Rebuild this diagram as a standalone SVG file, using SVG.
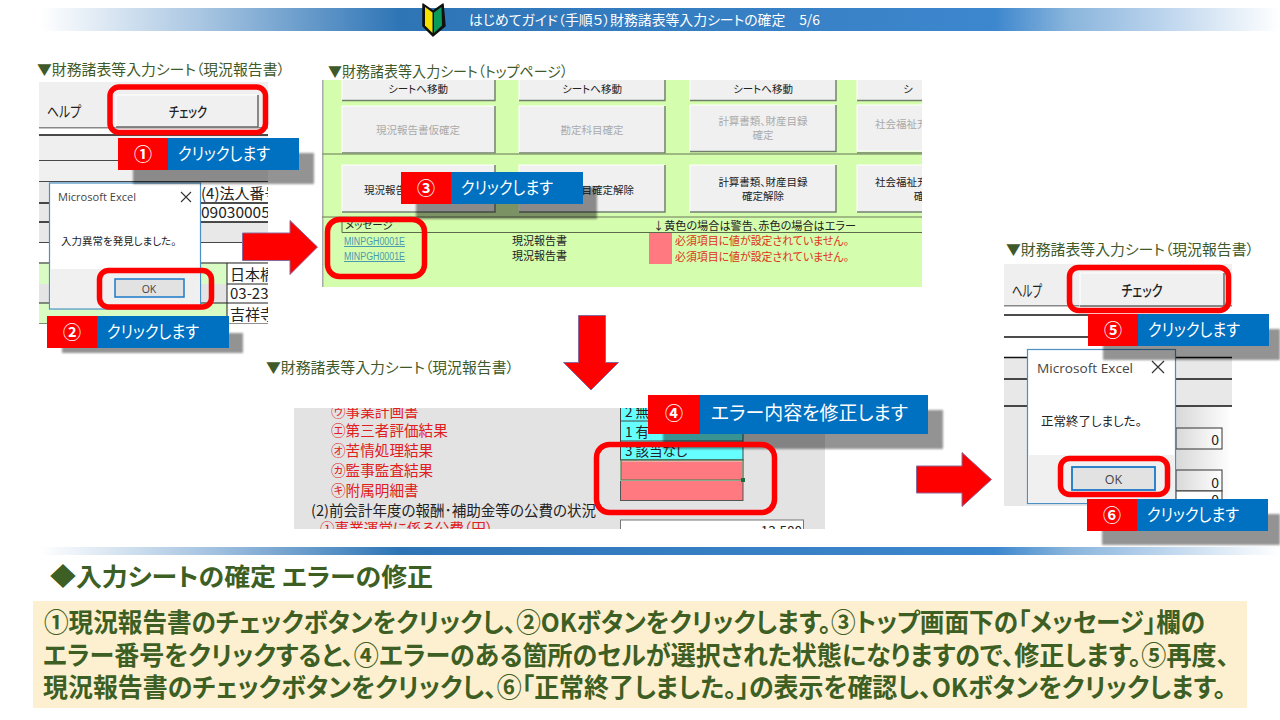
<svg xmlns="http://www.w3.org/2000/svg" width="1280" height="720" viewBox="0 0 1280 720">
<style>
text{font-family:"Noto Sans CJK JP","Noto Sans",sans-serif;fill:#222;font-feature-settings:"palt"}
.cap{font-size:14.5px;fill:#3f5a2a}
.frame{fill:none;stroke:#f00;stroke-width:5.5}
.lb{font-size:17px;fill:#fff}
.num{font-size:18px;font-weight:700;fill:#fff;text-anchor:middle}
.red{fill:#f00}.blue{fill:#0070c0}
.sh{fill:#000;opacity:.42;filter:url(#b)}
.arrow{fill:#f00;stroke:#8a6a9a;stroke-width:1}
.line{stroke:#111;stroke-width:1.5}
.btn{fill:#f0f0f0;stroke:#fff;stroke-width:1}
.btns{fill:none;stroke:#70806a;stroke-width:1.5}
.bt{font-size:10.5px;text-anchor:middle;fill:#222}
.st{text-anchor:start}
.dis{fill:#aaa}
.dlg{fill:#fff;stroke:#4a90c4;stroke-width:1.2}
.ms{font-family:"Open Sans","Noto Sans",sans-serif;font-size:11.5px;fill:#444}
.lnk{font-family:"Liberation Sans",sans-serif;font-size:10px;fill:#4a9ab0;text-decoration:underline}
.err{font-size:11.2px;fill:#e03020}
.form{font-size:14.6px;fill:#e02020}
.big{font-size:26px;font-weight:700;fill:#3d5f24}
</style>
<defs>
<linearGradient id="g1" x1="0" x2="1" y1="0" y2="0"><stop offset="0" stop-color="#fff"/><stop offset=".13" stop-color="#a9c6e2"/><stop offset=".29" stop-color="#2e75b6"/><stop offset=".77" stop-color="#3d87ce"/><stop offset=".83" stop-color="#8ab5dc"/><stop offset=".9" stop-color="#b8d2ec"/><stop offset="1" stop-color="#fff"/></linearGradient>
<linearGradient id="g2" x1="0" x2="1" y1="0" y2="0"><stop offset="0" stop-color="#d8d8d8"/><stop offset="1" stop-color="#fff"/></linearGradient>
<filter id="b" x="-10%" y="-30%" width="120%" height="160%"><feGaussianBlur stdDeviation="1.2"/></filter>
<clipPath id="c1"><rect x="39" y="82" width="229" height="242"/></clipPath>
<clipPath id="c2"><rect x="322" y="80" width="600" height="207"/></clipPath>
<clipPath id="c3"><rect x="294" y="408" width="531" height="121"/></clipPath>
<clipPath id="c4"><rect x="1004" y="264" width="228" height="242"/></clipPath>
</defs>
<rect width="1280" height="720" fill="#fff"/>
<g id="header">
<rect x="40" y="8" width="1240" height="23" fill="url(#g1)"/>
<path d="M423 4 L433 11 L443 4 L445 26 L433 36 L423 26 Z" fill="#111" stroke="#111" stroke-width="1.5" stroke-linejoin="round"/>
<path d="M425 7 L432.500 12.500 V33 L425 25.500 Z" fill="#f6e000"/>
<path d="M441.500 7 L434 12.500 V33 L442 25.500 Z" fill="#0a9a5a"/>
<text x="469" y="25" font-size="13.500" style="fill:#fff" textLength="351" lengthAdjust="spacingAndGlyphs">はじめてガイド（手順５）財務諸表等入力シートの確定　5/6</text>
</g>
<g id="sheet-check-1">
<text class="cap" x="37" y="75" textLength="248" lengthAdjust="spacingAndGlyphs">▼財務諸表等入力シート（現況報告書）</text>
<g clip-path="url(#c1)">
<rect x="39" y="82" width="229" height="242" fill="#efefef"/>
<rect x="39" y="127" width="229" height="8" fill="#fff"/>
<rect x="39" y="127" width="229" height="1.500" fill="#888"/>
<line class="line" x1="39" x2="268" y1="135" y2="135"/>
<line class="line" x1="39" x2="268" y1="161" y2="161"/>
<rect x="39" y="161" width="229" height="21" fill="#f0f0f0"/>
<line class="line" x1="39" x2="268" y1="182" y2="182"/>
<rect x="39" y="182" width="229" height="61" fill="#e8e8e8"/>
<rect x="201" y="183" width="67" height="39" fill="#fff"/>
<line class="line" x1="39" x2="268" y1="203" y2="203" stroke-width="1"/>
<line class="line" x1="39" x2="268" y1="222" y2="222"/>
<line class="line" x1="39" x2="268" y1="243" y2="243"/>
<rect x="39" y="243" width="229" height="19" fill="#fff"/>
<rect x="39" y="263" width="188" height="61" fill="#d8fcc4"/>
<rect x="39" y="284" width="188" height="19" fill="#e4e4e4"/>
<rect x="227" y="263" width="41" height="61" fill="#fff"/>
<path d="M227 263V324M39 263H268M227 284H268M39 303H268M39 324H268" stroke="#222" fill="none"/>
<text x="201" y="199" font-size="15">(4)法人番号</text>
<text x="201" y="218" font-size="15.500">09030005</text>
<text x="230" y="280" font-size="15">日本橋</text>
<text x="230" y="299" font-size="15">03-23</text>
<text x="230" y="320" font-size="15">吉祥寺</text>
<text x="47" y="117" font-size="15" textLength="34" lengthAdjust="spacingAndGlyphs">ヘルプ</text>
<rect x="116" y="95" width="142" height="32" fill="#f0f0f0" stroke="#fff"/>
<path d="M258 95V127H116" stroke="#666" stroke-width="1.500" fill="none"/>
<text x="188" y="117" font-size="14" font-weight="500" text-anchor="middle" textLength="38" lengthAdjust="spacingAndGlyphs">チェック</text>
<rect x="49.500" y="183" width="151" height="126" class="dlg"/>
<rect x="50.500" y="269" width="149" height="39" fill="#f0f0f0"/>
<text class="ms" x="58" y="201" textLength="78" lengthAdjust="spacingAndGlyphs">Microsoft Excel</text>
<path d="M181 192L191 202M191 192L181 202" stroke="#333" stroke-width="1.100"/>
<text x="61" y="245" font-size="10.500">入力異常を発見しました。</text>
<rect x="115" y="279" width="69" height="18" fill="#e2e2e2" stroke="#1a78c8" stroke-width="1.500"/>
<text class="ms" x="149" y="293" text-anchor="middle" style="font-size:10.500px">OK</text>
</g>
</g>
<g id="sheet-top">
<text class="cap" x="328" y="77" textLength="240" lengthAdjust="spacingAndGlyphs">▼財務諸表等入力シート（トップページ）</text>
<g clip-path="url(#c2)">
<rect x="322" y="80" width="600" height="207" fill="#d5fdae"/>
<rect x="322" y="80" width="1.500" height="207" fill="#aaa"/>
<g>
<rect class="btn" x="342" y="75" width="153" height="25.500"/>
<rect class="btn" x="519" y="75" width="146" height="25.500"/>
<rect class="btn" x="690" y="75" width="146" height="25.500"/>
<rect class="btn" x="857" y="75" width="80" height="25.500"/>
<rect class="btn" x="342" y="106" width="153" height="47"/>
<rect class="btn" x="519" y="106" width="146" height="47"/>
<rect class="btn" x="690" y="105" width="146" height="46"/>
<rect class="btn" x="857" y="105" width="80" height="46"/>
<rect class="btn" x="342" y="165" width="153" height="47"/>
<rect class="btn" x="519" y="165" width="146" height="47"/>
<rect class="btn" x="690" y="165" width="146" height="47"/>
<rect class="btn" x="857" y="165" width="80" height="47"/>
</g>
<path class="btns" d="M495 80V100.500H342M665 80V100.500H519M836 80V100.500H690M922 100.500H857M495 106V153H342M665 106V153H519M836 105V151.500H690M922 153H857M495 165V212H342M665 165V212H519M836 165V212H690M922 212H857"/>
<path d="M322 154H922" stroke="#8aa070" stroke-width="1.500"/>
<text class="bt" x="418" y="93">シートへ移動</text>
<text class="bt" x="592" y="93">シートへ移動</text>
<text class="bt" x="763" y="93">シートへ移動</text>
<text class="bt" x="908" y="93">シ</text>
<text class="bt dis" x="418" y="134">現況報告書仮確定</text>
<text class="bt dis" x="592" y="134">勘定科目確定</text>
<text class="bt dis" x="763" y="125">計算書類、財産目録</text>
<text class="bt dis" x="763" y="139">確定</text>
<text class="bt dis st" x="875" y="128">社会福祉充</text>
<text class="bt st" x="364" y="194">現況報告書確定解除</text>
<text class="bt" x="592" y="194">勘定科目確定解除</text>
<text class="bt" x="763" y="186">計算書類、財産目録</text>
<text class="bt" x="763" y="200">確定解除</text>
<text class="bt st" x="875" y="186">社会福祉充実</text>
<text class="bt" x="919" y="200">確</text>
<path d="M322 217H922" stroke="#6a7a5a"/>
<path d="M342 217V232.500H922" stroke="#5a6a4a" fill="none"/>
<text x="345" y="229" font-size="10.500">メッセージ</text>
<text x="653" y="230" font-size="11" textLength="203" lengthAdjust="spacingAndGlyphs">↓黄色の場合は警告、赤色の場合はエラー</text>
<text class="lnk" x="344" y="245" textLength="61" lengthAdjust="spacingAndGlyphs">MINPGH0001E</text>
<text class="lnk" x="344" y="260" textLength="61" lengthAdjust="spacingAndGlyphs">MINPGH0001E</text>
<text x="512" y="245" font-size="11">現況報告書</text>
<text x="512" y="260" font-size="11">現況報告書</text>
<rect x="649" y="233" width="23" height="31" fill="#ff7a80"/>
<text class="err" x="675" y="245" textLength="174" lengthAdjust="spacingAndGlyphs">必須項目に値が設定されていません。</text>
<text class="err" x="675" y="261" textLength="174" lengthAdjust="spacingAndGlyphs">必須項目に値が設定されていません。</text>
</g>
</g>
<g id="sheet-form">
<text class="cap" x="266" y="373" textLength="248" lengthAdjust="spacingAndGlyphs">▼財務諸表等入力シート（現況報告書）</text>
<g clip-path="url(#c3)">
<rect x="294" y="408" width="531" height="121" fill="#e4e3e4"/>
<text class="form" x="331" y="417">㋒事業計画書</text>
<text class="form" x="331" y="436">㋓第三者評価結果</text>
<text class="form" x="331" y="456">㋔苦情処理結果</text>
<text class="form" x="331" y="476">㋕監事監査結果</text>
<text class="form" x="331" y="496">㋖附属明細書</text>
<text x="311" y="516" font-size="14.500" textLength="285" lengthAdjust="spacingAndGlyphs">(2)前会計年度の報酬･補助金等の公費の状況</text>
<text class="form" x="320" y="534">①事業運営に係る公費（円）</text>
<rect x="620.500" y="400" width="122.500" height="60" fill="#66ffff" stroke="#444"/>
<line x1="620" x2="743" y1="421" y2="421" stroke="#444"/>
<line x1="620" x2="743" y1="441" y2="441" stroke="#444"/>
<text x="625" y="417" font-size="13.500">2 無</text>
<text x="625" y="437" font-size="13.500">1 有</text>
<text x="625" y="456" font-size="13.500">3 該当なし</text>
<rect x="620.500" y="460" width="122.500" height="40.500" fill="#ff7a80" stroke="#555"/>
<rect x="620.500" y="461" width="122.500" height="19.500" fill="#ff7a80" stroke="#d8e0c8"/>
<rect x="621" y="460" width="122" height="20" fill="none" stroke="#3a7a50"/>
<rect x="741" y="478" width="4" height="4" fill="#1a6a40"/>
<rect x="620.500" y="520" width="183" height="20" fill="#fff" stroke="#777"/>
<text x="802" y="536" font-size="13.500" text-anchor="end">13,580</text>
</g>
</g>
<g id="sheet-check-2">
<text class="cap" x="1006" y="255" textLength="248" lengthAdjust="spacingAndGlyphs">▼財務諸表等入力シート（現況報告書）</text>
<g clip-path="url(#c4)">
<rect x="1004" y="264" width="228" height="242" fill="#efefef"/>
<rect x="1004" y="305" width="228" height="52" fill="#fff"/>
<rect x="1004" y="305" width="228" height="1.500" fill="#888"/>
<line class="line" x1="1004" x2="1232" y1="315" y2="315"/>
<line class="line" x1="1004" x2="1232" y1="337" y2="337"/>
<rect x="1004" y="357" width="228" height="149" fill="#e8e8e8"/>
<rect x="1176" y="406" width="56" height="100" fill="url(#g2)"/>
<line class="line" x1="1004" x2="1232" y1="357.500" y2="357.500"/>
<line class="line" x1="1004" x2="1232" y1="379" y2="379"/>
<line class="line" x1="1004" x2="1232" y1="406" y2="406"/>
<rect x="1176" y="428" width="46" height="21" fill="url(#g2)" stroke="#333"/>
<rect x="1176" y="470" width="46" height="21" fill="url(#g2)" stroke="#333"/>
<rect x="1176" y="491" width="46" height="20" fill="#fff" stroke="#333"/>
<text x="1219" y="445" font-size="14" text-anchor="end">0</text>
<text x="1219" y="488" font-size="14" text-anchor="end">0</text>
<text x="1219" y="505" font-size="14" text-anchor="end">0</text>
<text x="1012" y="297" font-size="15.500" textLength="30" lengthAdjust="spacingAndGlyphs">ヘルプ</text>
<rect x="1080" y="273" width="144" height="33" fill="#f0f0f0" stroke="#fff"/>
<path d="M1224 273V306H1080" stroke="#666" stroke-width="1.500" fill="none"/>
<text x="1142" y="296" font-size="14.500" font-weight="500" text-anchor="middle" textLength="41" lengthAdjust="spacingAndGlyphs">チェック</text>
<rect x="1027.500" y="349.500" width="148" height="154" class="dlg"/>
<rect x="1028.500" y="455" width="146" height="47.500" fill="#f0f0f0"/>
<text class="ms" x="1037" y="373" style="font-size:13.500px" textLength="96" lengthAdjust="spacingAndGlyphs">Microsoft Excel</text>
<path d="M1152 361L1164 373M1164 361L1152 373" stroke="#333" stroke-width="1.200"/>
<text x="1041" y="426" font-size="12.500">正常終了しました。</text>
<rect x="1072" y="467" width="83" height="23" fill="#e2e2e2" stroke="#1a78c8" stroke-width="1.800"/>
<text class="ms" x="1113.500" y="484" text-anchor="middle" style="font-size:12.500px">OK</text>
</g>
</g>
<g id="connectors">
<path class="arrow" d="M242.500 233H290V220.500L317.500 247L290 274.500V260.500H242.500Z"/>
<path class="arrow" d="M578.500 315.500H605.500V362.500H618.500L591 390L563.500 362.500H578.500Z"/>
<path class="arrow" d="M916.500 466H962V452.500L991.500 479.500L962 506.500V493H916.500Z"/>
</g>
<g id="step-1">
<rect class="sh" x="133" y="153" width="181" height="31"/>
<rect class="frame" x="110" y="87" width="155.500" height="45.500" rx="9"/>
<rect class="red" x="118" y="138" width="50" height="32"/><rect class="blue" x="168" y="138" width="131" height="32"/>
<text class="num" x="143" y="161">①</text><text class="lb" x="178" y="160" textLength="92" lengthAdjust="spacingAndGlyphs">クリックします</text>
</g>
<g id="step-2">
<rect class="sh" x="62" y="333" width="181" height="20"/>
<rect class="frame" x="99.500" y="270.500" width="112" height="36.500" rx="9"/>
<rect class="red" x="47" y="316" width="50" height="32"/><rect class="blue" x="97" y="316" width="132" height="32"/>
<text class="num" x="72" y="339">②</text><text class="lb" x="107" y="338" textLength="92" lengthAdjust="spacingAndGlyphs">クリックします</text>
</g>
<g id="step-3">
<rect class="sh" x="416" y="187" width="181" height="32"/>
<rect class="frame" x="327.500" y="219.500" width="97" height="57" rx="12"/>
<rect class="red" x="401" y="172" width="50" height="32"/><rect class="blue" x="451" y="172" width="132" height="32"/>
<text class="num" x="426" y="195">③</text><text class="lb" x="461" y="194" textLength="92" lengthAdjust="spacingAndGlyphs">クリックします</text>
</g>
<g id="step-4">
<rect class="sh" x="663" y="410" width="280" height="39"/>
<rect class="frame" x="596.500" y="444.500" width="178" height="68" rx="13"/>
<rect class="red" x="648" y="395" width="52" height="39"/><rect class="blue" x="700" y="395" width="228" height="39"/>
<text class="num" x="674" y="420">④</text><text class="lb" x="711" y="420" style="font-size:19px" textLength="197" lengthAdjust="spacingAndGlyphs">エラー内容を修正します</text>
</g>
<g id="step-5">
<rect class="sh" x="1103" y="329" width="177" height="31"/>
<rect class="frame" x="1069.500" y="267.500" width="159" height="43" rx="9"/>
<rect class="red" x="1088" y="314" width="50" height="32"/><rect class="blue" x="1138" y="314" width="131" height="32"/>
<text class="num" x="1113" y="337">⑤</text><text class="lb" x="1148" y="336" textLength="92" lengthAdjust="spacingAndGlyphs">クリックします</text>
</g>
<g id="step-6">
<rect class="sh" x="1102" y="514" width="178" height="31"/>
<rect class="frame" x="1060.500" y="458.500" width="107" height="36" rx="9"/>
<rect class="red" x="1087" y="499" width="50" height="32"/><rect class="blue" x="1137" y="499" width="131" height="32"/>
<text class="num" x="1112" y="522">⑥</text><text class="lb" x="1147" y="521" textLength="92" lengthAdjust="spacingAndGlyphs">クリックします</text>
</g>
<g id="summary">
<rect x="40" y="547" width="1240" height="8" fill="url(#g1)"/>
<text x="50" y="586" font-size="24.500" font-weight="700" style="fill:#3d5f24" textLength="383" lengthAdjust="spacingAndGlyphs">◆入力シートの確定  エラーの修正</text>
<rect x="33" y="601" width="1214" height="107" fill="#fdf0d0"/>
<text class="big" x="44" y="632" textLength="1161" lengthAdjust="spacingAndGlyphs">①現況報告書のチェックボタンをクリックし、②OKボタンをクリックします。③トップ画面下の「メッセージ」欄の</text>
<text class="big" x="43" y="665" textLength="1186" lengthAdjust="spacingAndGlyphs">エラー番号をクリックすると、④エラーのある箇所のセルが選択された状態になりますので、修正します。⑤再度、</text>
<text class="big" x="43" y="697" textLength="1183" lengthAdjust="spacingAndGlyphs">現況報告書のチェックボタンをクリックし、⑥「正常終了しました。」の表示を確認し、OKボタンをクリックします。</text>
</g>
</svg>
